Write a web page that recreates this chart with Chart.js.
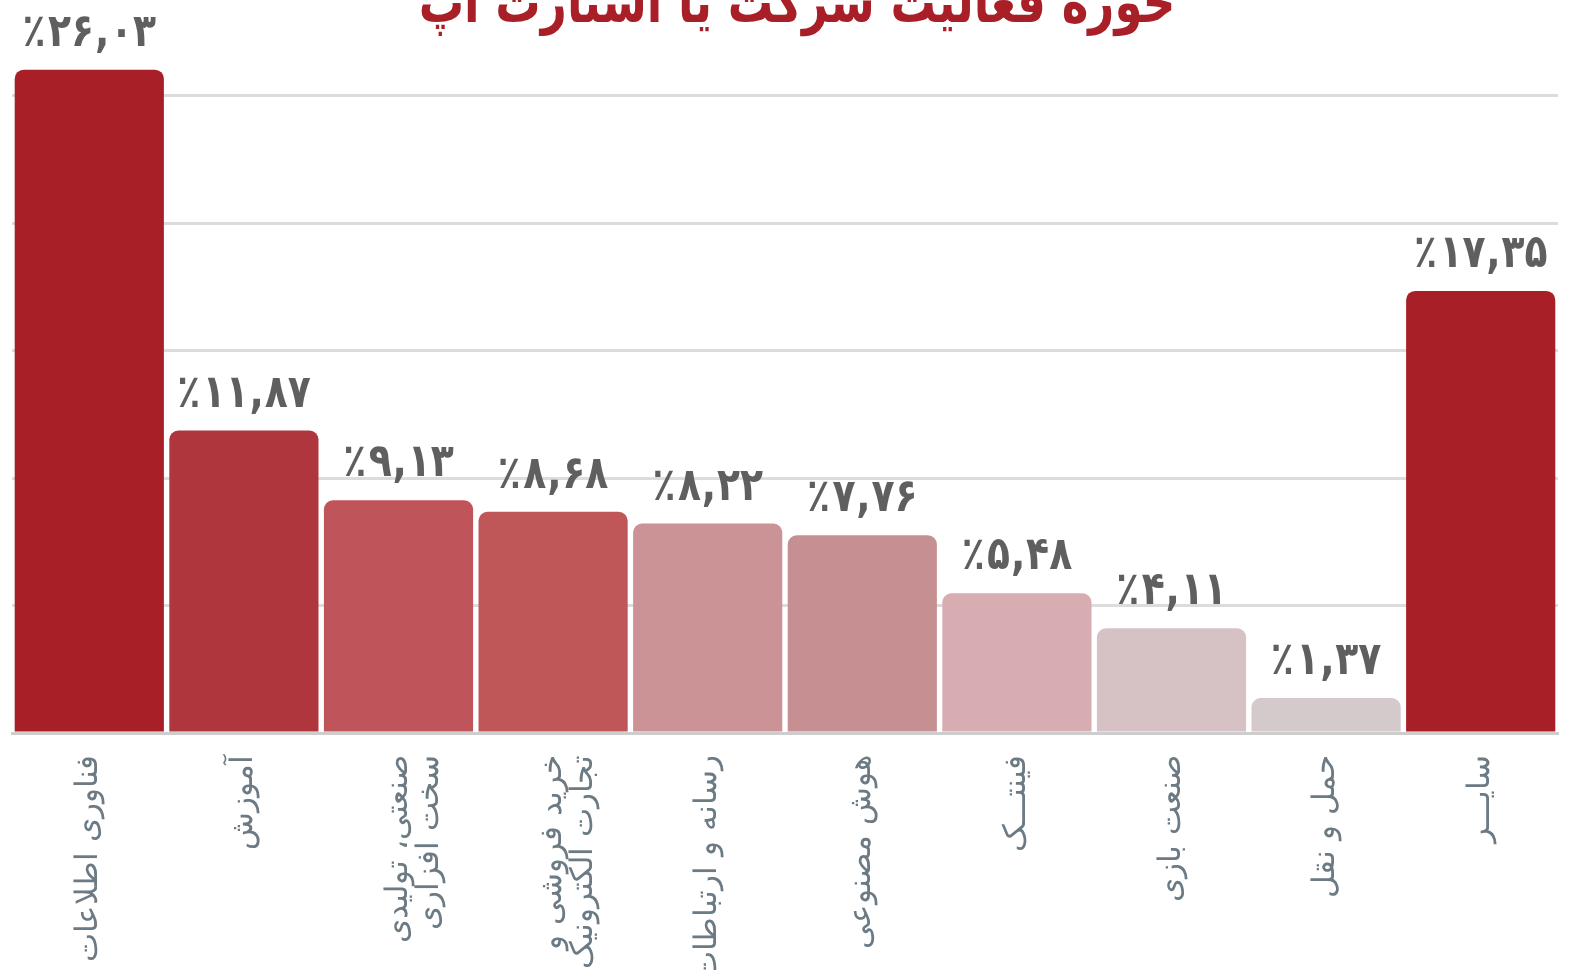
<!DOCTYPE html>
<html><head><meta charset="utf-8">
<script src="https://cdn.jsdelivr.net/npm/chart.js@4"></script>
<style>
html,body{margin:0;padding:0;background:#fff;overflow:hidden}
#wrap{position:relative;width:1581px;height:970px}
</style></head>
<body><div id="wrap"><canvas id="c"></canvas></div>
<script>
const titleText = 'حوزه فعالیت شرکت یا استارت آپ';
const categories = [
  'فناوری اطلاعات',
  'آموزش',
  ['صنعتی، تولیدی', 'سخت افزاری'],
  ['خرید فروشی و', 'تجارت الکترونیک'],
  'رسانه و ارتباطات',
  'هوش مصنوعی',
  'فینتـــک',
  'صنعت بازی',
  'حمل و نقل',
  'سایـــر'
];
const values = [26.03, 11.87, 9.13, 8.68, 8.22, 7.76, 5.48, 4.11, 1.37, 17.35];
const barColors = ['#a81f27','#b0363d','#bf555a','#bf5759','#cc9396','#c69093','#d7adb2','#d6c2c4','#d4cacb','#a81f27'];
const yTicks = [0, 5, 10, 15, 20, 25];

function faDigits(s){
  const d='۰۱۲۳۴۵۶۷۸۹';
  return s.replace(/[0-9]/g, c => d[+c]);
}

const valueLabels = {
  id: 'valueLabels',
  afterDatasetsDraw(chart){
    const ctx = chart.ctx;
    const meta = chart.getDatasetMeta(0);
    ctx.save();
    ctx.font = 'bold 46px "DejaVu Sans"';
    ctx.fillStyle = '#5f5f5f';
    ctx.textBaseline = 'alphabetic';
    ctx.textAlign = 'left';
    meta.data.forEach((bar, i) => {
      const parts = values[i].toFixed(2).split('.');
      const pieces = ['٪', faDigits(parts[0]), ',', faDigits(parts[1])];
      const gaps = [3, 1, 1, 0];
      const widths = pieces.map(p => ctx.measureText(p).width);
      const total = widths.reduce((a, b) => a + b, 0) + gaps.reduce((a, b) => a + b, 0);
      ctx.save();
      ctx.translate(bar.x, bar.y - 24);
      ctx.scale(0.82, 1);
      let x = -total / 2;
      pieces.forEach((p, k) => { ctx.fillText(p, x, 0); x += widths[k] + gaps[k]; });
      ctx.restore();
    });
    ctx.restore();
  }
};
const topTitle = {
  id: 'topTitle',
  afterDraw(chart){
    const ctx = chart.ctx;
    ctx.save();
    ctx.font = 'bold 58px "DejaVu Sans"';
    ctx.fillStyle = '#a81f27';
    ctx.textAlign = 'center';
    ctx.textBaseline = 'alphabetic';
    ctx.translate(797, 22);
    ctx.scale(0.78, 1);
    ctx.fillText(titleText, 0, 0);
    ctx.restore();
  }
};

new Chart(document.getElementById('c'), {
  type: 'bar',
  data: {
    labels: categories,
    datasets: [{
      data: values,
      backgroundColor: barColors,
      borderRadius: {topLeft: 9, topRight: 9, bottomLeft: 0, bottomRight: 0},
      borderSkipped: 'bottom',
      categoryPercentage: 1,
      barPercentage: 0.965
    }]
  },
  options: {
    responsive: true,
    maintainAspectRatio: false,
    animation: false,
    layout: {padding: {left: 12, right: 23, top: 45, bottom: 0}},
    plugins: {legend: {display: false}, tooltip: {enabled: false}, title: {display: false}},
    scales: {
      x: {
        grid: {display: false},
        border: {display: true, color: '#cdcdcd', width: 3},
        afterFit(s){ s.height = 237; },
        ticks: {
          minRotation: 90, maxRotation: 90, autoSkip: false, padding: 14,
          color: '#6c7a84',
          font: {family: '"DejaVu Sans"', size: 31, weight: 300, lineHeight: 1.0}
        }
      },
      y: {
        min: 0, max: 27,
        afterBuildTicks(s){ s.ticks = yTicks.map(v => ({value: v})); },
        afterFit(s){ s.width = 0; },
        ticks: {display: false},
        border: {display: false},
        grid: {color: '#dcdcdc', lineWidth: 3, drawTicks: false}
      }
    }
  },
  plugins: [valueLabels, topTitle]
});
</script></body></html>
